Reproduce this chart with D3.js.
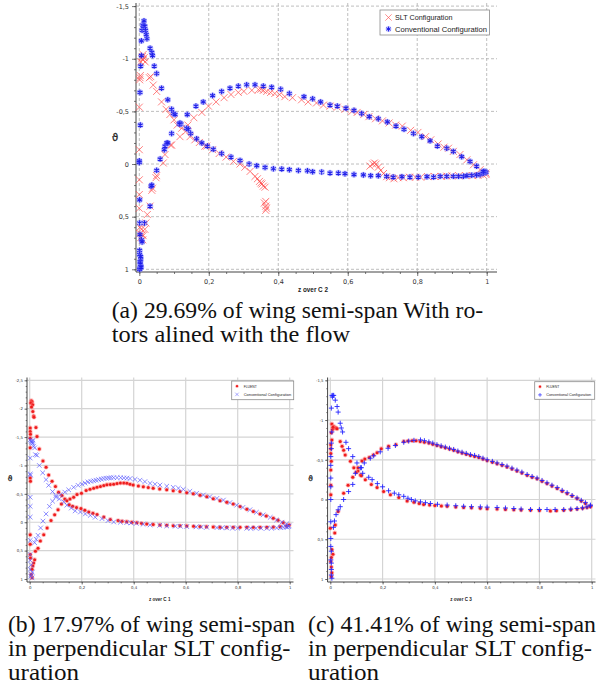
<!DOCTYPE html>
<html>
<head>
<meta charset="utf-8">
<script src="https://cdn.jsdelivr.net/npm/d3@7"></script>
<style>
html, body { margin: 0; padding: 0; background: #fff; }
svg { display: block; }
</style>
</head>
<body>
<div class="container"></div>
<script>
// tick values
const xTicks = [0, 0.2, 0.4, 0.6, 0.8, 1];
const yTicksA = [-1.5, -1, -0.5, 0, 0.5, 1];
const yTicksB = [-2.5, -2, -1.5, -1, -0.5, 0, 0.5, 1];
const yTicksC = [-1.5, -1, -0.5, 0, 0.5, 1];

const legendA = ["SLT Configuration", "Conventional Configuration"];
const legendBC = ["FLUENT", "Conventional Configuration"];
const xTitles = ["z over C 2", "z over C 1", "z over C 3"];
const yTitle = "\u03D1";

const captionA = ["(a) 29.69% of wing semi-span With ro-", "tors alined with the flow"];
const captionB = ["(b) 17.97% of wing semi-span", "in perpendicular SLT config-", "uration"];
const captionC = ["(c) 41.41% of wing semi-span", "in perpendicular SLT config-", "uration"];

// (a) SLT configuration, [z/c, value]
const sltA = [[0.000,-0.136],[0.000,-0.540],[0.003,-0.840],[0.002,-0.820],[0.001,-0.800],[0.004,-0.970],[0.007,-1.000],[0.009,-1.020],[0.011,-0.990],[0.014,-1.010],[0.017,-0.970],[0.011,-1.040],
[0.029,-0.820],[0.033,-0.830],[0.040,-0.750],[0.050,-0.690],[0.064,-0.590],[0.077,-0.520],[0.088,-0.470],[0.100,-0.420],[0.109,-0.370],[0.122,-0.340],[0.134,-0.310],[0.146,-0.260],[0.160,-0.230],[0.173,-0.205],[0.189,-0.170],[0.194,-0.170],[0.211,-0.136],[0.230,-0.100],[0.250,-0.066],[0.271,-0.025],[0.290,0.000],[0.304,0.030],[0.319,0.070],[0.333,0.118],[0.340,0.140],[0.346,0.165],[0.350,0.180],[0.353,0.190],[0.357,0.210],[0.362,0.220],[0.364,0.355],[0.360,0.370],[0.364,0.400],[0.366,0.420],[0.364,0.440],
[0.664,0.020],[0.672,0.000],[0.677,-0.010],[0.682,0.000],[0.688,0.030],[0.695,0.060],[0.703,0.090],[0.712,0.120],[0.720,0.130],[0.733,0.140],[0.745,0.130],[0.760,0.130],[0.778,0.125],[0.795,0.125],[0.810,0.125],[0.830,0.120],[0.850,0.118],[0.870,0.118],[0.885,0.115],[0.900,0.112],[0.920,0.112],[0.940,0.110],[0.960,0.110],[0.975,0.108],[0.990,0.105],[0.998,0.100],
[0.000,0.150],[0.000,0.290],[0.000,0.420],[0.002,0.600],[0.002,0.660],[0.004,0.700],[0.006,0.620],[0.008,0.670],[0.010,0.720],[0.011,0.680],[0.016,0.620],[0.019,0.560],[0.023,0.480],[0.031,0.400],[0.036,0.250],[0.038,0.230],[0.048,0.130],[0.050,0.110],[0.069,-0.010],[0.074,-0.090],[0.090,-0.180],[0.093,-0.180],[0.117,-0.260],[0.140,-0.370],[0.157,-0.440],[0.180,-0.490],[0.199,-0.550],[0.221,-0.590],[0.244,-0.630],[0.264,-0.660],[0.285,-0.680],[0.301,-0.690],[0.324,-0.700],[0.343,-0.706],[0.350,-0.710],[0.357,-0.700],[0.367,-0.690],[0.378,-0.680],[0.390,-0.670],[0.404,-0.660],[0.419,-0.640],[0.441,-0.630],[0.467,-0.610],[0.486,-0.590],[0.510,-0.580],[0.530,-0.560],[0.549,-0.550],[0.570,-0.540],[0.592,-0.520],[0.612,-0.500],[0.627,-0.490],[0.646,-0.470],[0.661,-0.450],[0.680,-0.430],[0.700,-0.410],[0.719,-0.390],[0.738,-0.370],[0.757,-0.360],[0.781,-0.320],[0.802,-0.300],[0.824,-0.260],[0.839,-0.230],[0.860,-0.190],[0.877,-0.160],[0.890,-0.150],[0.904,-0.120],[0.923,-0.090],[0.943,-0.040],[0.962,0.007],[0.981,0.054],[0.998,0.086]];

// (a) conventional configuration
const convA = [[0.000,-0.030],[0.000,-0.015],[0.001,0.340],[0.001,0.560],[0.002,0.670],[0.001,0.820],[0.004,0.910],[0.004,0.970],[0.002,0.990],[0.006,0.720],[0.008,0.740],[0.001,0.860],[0.002,0.930],[0.003,0.950],[0.001,1.000],[0.005,0.980],[0.004,0.880],
[0.003,-0.370],[0.002,-0.680],[0.004,-0.930],[0.006,-1.030],[0.006,-1.170],[0.008,-1.270],[0.010,-1.320],[0.0135,-1.360],[0.012,-1.310],[0.016,-1.310],[0.018,-1.270],[0.020,-1.230],[0.022,-1.190],
[0.031,-1.100],[0.036,-1.060],[0.038,-1.030],[0.043,-0.930],[0.050,-0.860],[0.064,-0.720],[0.082,-0.610],[0.093,-0.520],[0.098,-0.480],[0.103,-0.470],[0.117,-0.390],[0.120,-0.380],[0.136,-0.340],[0.141,-0.330],[0.148,-0.290],[0.165,-0.240],[0.180,-0.200],[0.196,-0.170],[0.213,-0.140],[0.237,-0.100],[0.264,-0.066],[0.290,-0.034],[0.316,0.000],[0.338,0.016],[0.362,0.032],[0.386,0.045],[0.410,0.048],[0.432,0.054],[0.458,0.061],[0.484,0.064],[0.499,0.073],[0.525,0.076],[0.549,0.086],[0.573,0.086],[0.592,0.092],[0.618,0.100],[0.645,0.104],[0.666,0.111],[0.688,0.111],[0.712,0.117],[0.731,0.124],[0.756,0.120],[0.779,0.124],[0.803,0.124],[0.828,0.120],[0.847,0.124],[0.866,0.117],[0.885,0.117],[0.904,0.117],[0.919,0.117],[0.933,0.117],[0.943,0.110],[0.957,0.107],[0.971,0.104],[0.981,0.099],[0.990,0.088],[0.998,0.080],[0.995,0.070],[0.992,0.076],
[0.015,0.560],[0.031,0.400],[0.034,0.210],[0.036,0.200],[0.050,0.060],[0.060,-0.047],[0.072,-0.136],[0.074,-0.170],[0.079,-0.200],[0.082,-0.200],[0.093,-0.290],[0.115,-0.380],[0.138,-0.470],[0.163,-0.550],[0.184,-0.590],[0.211,-0.650],[0.237,-0.690],[0.261,-0.720],[0.285,-0.740],[0.309,-0.753],[0.333,-0.753],[0.357,-0.740],[0.381,-0.730],[0.407,-0.710],[0.432,-0.670],[0.474,-0.640],[0.499,-0.620],[0.522,-0.590],[0.549,-0.560],[0.570,-0.550],[0.595,-0.530],[0.618,-0.510],[0.640,-0.480],[0.662,-0.450],[0.688,-0.430],[0.714,-0.400],[0.739,-0.360],[0.762,-0.330],[0.789,-0.290],[0.813,-0.260],[0.837,-0.220],[0.858,-0.170],[0.885,-0.150],[0.904,-0.120],[0.928,-0.070],[0.952,-0.025],[0.971,0.020],[0.990,0.070]];

// (b) FLUENT
const fluentB = [[0.006,-2.14],[0.009,-2.12],[0.004,-2.10],[0.0115,-2.07],[0.007,-2.03],[0.012,-1.95],[0.015,-1.87],[0.0165,-1.85],
[0.002,-1.66],[0.002,-1.60],[0.003,-1.55],[0.002,-1.48],[0.002,-1.31],[0.002,-0.78],[0.003,-0.72],[0.002,0.22],[0.002,0.39],[0.002,0.57],[0.003,0.63],[0.015,0.72],[0.012,0.77],[0.009,0.83],[0.006,0.92],[0.009,0.98],
[0.024,-1.67],[0.028,-1.51],[0.037,-1.29],[0.051,-1.08],[0.063,-0.97],[0.073,-0.83],[0.086,-0.72],[0.099,-0.63],[0.111,-0.53],[0.124,-0.47],[0.135,-0.41],[0.152,-0.31],[0.165,-0.28],[0.180,-0.26],[0.197,-0.24],[0.212,-0.21],[0.227,-0.18],[0.243,-0.16],[0.259,-0.134],[0.285,-0.09],[0.310,-0.05],[0.340,-0.03],[0.355,-0.017],[0.373,-0.01],[0.393,0.0],[0.412,0.007],[0.430,0.02],[0.450,0.03],[0.475,0.04],[0.501,0.047],[0.527,0.055],[0.552,0.06],[0.578,0.063],[0.604,0.065],[0.630,0.072],[0.655,0.077],[0.680,0.08],[0.706,0.083],[0.732,0.087],[0.758,0.089],[0.783,0.089],[0.809,0.089],[0.835,0.09],[0.86,0.089],[0.886,0.09],[0.912,0.089],[0.937,0.085],[0.963,0.08],[0.988,0.065],
[0.019,0.66],[0.022,0.51],[0.032,0.46],[0.041,0.33],[0.054,0.22],[0.067,0.10],[0.082,-0.03],[0.096,-0.13],[0.109,-0.22],[0.122,-0.32],[0.143,-0.38],[0.155,-0.41],[0.169,-0.44],[0.182,-0.49],[0.199,-0.51],[0.217,-0.56],[0.232,-0.58],[0.246,-0.60],[0.259,-0.615],[0.272,-0.63],[0.285,-0.645],[0.297,-0.66],[0.31,-0.665],[0.323,-0.67],[0.336,-0.68],[0.349,-0.69],[0.362,-0.69],[0.374,-0.685],[0.386,-0.67],[0.398,-0.655],[0.418,-0.64],[0.437,-0.625],[0.456,-0.61],[0.475,-0.60],[0.5,-0.585],[0.527,-0.57],[0.552,-0.555],[0.578,-0.54],[0.604,-0.52],[0.629,-0.50],[0.655,-0.475],[0.681,-0.45],[0.706,-0.415],[0.732,-0.38],[0.758,-0.35],[0.783,-0.32],[0.809,-0.275],[0.835,-0.23],[0.86,-0.19],[0.886,-0.146],[0.91,-0.11],[0.937,-0.07],[0.955,-0.035],[0.975,0.007],[0.998,0.047]];

// (b) conventional configuration
const convB = [[0.002,-1.45],[0.006,-1.43],[0.009,-1.42],[0.0115,-1.39],[0.015,-1.34],[0.019,-1.31],[0.022,-1.19],[0.008,-1.40],[0.012,-1.44],
[0.002,-1.13],[0.002,-0.85],[0.003,-0.83],[0.002,-0.44],[0.002,-0.28],[0.002,-0.09],[0.002,0.32],[0.002,0.57],[0.002,0.67],[0.006,0.75],[0.002,0.83],[0.006,0.92],[0.009,0.98],[0.004,0.95],[0.010,0.88],
[0.028,-1.18],[0.037,-1.0],[0.05,-0.87],[0.063,-0.75],[0.073,-0.65],[0.088,-0.54],[0.101,-0.47],[0.114,-0.41],[0.131,-0.36],[0.143,-0.30],[0.16,-0.25],[0.175,-0.20],[0.195,-0.18],[0.214,-0.146],[0.233,-0.12],[0.252,-0.088],[0.278,-0.063],[0.301,-0.028],[0.323,-0.005],[0.349,0.0],[0.373,0.007],[0.39,0.012],[0.41,0.02],[0.436,0.035],[0.463,0.047],[0.5,0.055],[0.527,0.065],[0.56,0.07],[0.58,0.073],[0.604,0.077],[0.64,0.082],[0.66,0.085],[0.681,0.089],[0.72,0.095],[0.74,0.097],[0.758,0.1],[0.78,0.102],[0.8,0.104],[0.835,0.106],[0.85,0.106],[0.87,0.106],[0.89,0.106],[0.912,0.106],[0.93,0.104],[0.95,0.1],[0.965,0.095],[0.975,0.089],[0.985,0.08],[0.998,0.065],[0.995,0.075],[0.99,0.085],
[0.019,0.36],[0.025,0.3],[0.032,0.23],[0.042,0.1],[0.051,-0.02],[0.063,-0.146],[0.076,-0.28],[0.088,-0.37],[0.101,-0.44],[0.118,-0.49],[0.135,-0.53],[0.15,-0.57],[0.169,-0.615],[0.186,-0.65],[0.201,-0.67],[0.213,-0.69],[0.224,-0.71],[0.235,-0.72],[0.246,-0.73],[0.255,-0.74],[0.265,-0.75],[0.275,-0.76],[0.285,-0.77],[0.295,-0.775],[0.304,-0.78],[0.313,-0.785],[0.323,-0.785],[0.336,-0.785],[0.35,-0.785],[0.362,-0.78],[0.374,-0.775],[0.386,-0.77],[0.405,-0.755],[0.424,-0.74],[0.443,-0.715],[0.463,-0.685],[0.482,-0.67],[0.501,-0.655],[0.527,-0.635],[0.552,-0.615],[0.572,-0.6],[0.591,-0.58],[0.616,-0.545],[0.642,-0.51],[0.668,-0.48],[0.693,-0.45],[0.72,-0.42],[0.745,-0.39],[0.77,-0.345],[0.796,-0.30],[0.82,-0.26],[0.847,-0.22],[0.872,-0.175],[0.898,-0.13],[0.925,-0.085],[0.95,-0.04],[0.97,0.0],[0.988,0.03]];

// (c) FLUENT
const fluentC = [[0.006,-0.95],[0.013,-0.92],[0.017,-0.90],[0.022,-0.90],[0.026,-0.89],[0.008,-0.88],[0.004,-0.84],[0.010,-0.91],
[0.006,-0.75],[0.002,-0.69],[0.002,-0.64],[0.002,-0.58],[0.004,-0.48],[0.002,-0.37],[0.002,-0.18],[0.002,-0.06],[0.000,0.36],[0.006,0.63],[0.010,0.69],[0.004,0.73],[0.002,0.78],[0.004,0.85],[0.006,0.92],[0.004,0.97],
[0.038,-0.73],[0.045,-0.67],[0.051,-0.62],[0.057,-0.56],[0.077,-0.48],[0.090,-0.40],[0.106,-0.36],[0.115,-0.31],[0.119,-0.30],[0.134,-0.25],[0.157,-0.19],[0.179,-0.15],[0.204,-0.10],[0.23,-0.06],[0.262,-0.025],[0.294,0.02],[0.32,0.035],[0.34,0.05],[0.357,0.063],[0.38,0.07],[0.40,0.075],[0.425,0.08],[0.447,0.085],[0.48,0.093],[0.51,0.10],[0.54,0.105],[0.574,0.11],[0.6,0.115],[0.638,0.12],[0.67,0.125],[0.702,0.13],[0.73,0.132],[0.766,0.134],[0.8,0.138],[0.842,0.143],[0.865,0.14],[0.893,0.134],[0.92,0.128],[0.944,0.12],[0.965,0.11],[0.982,0.10],[0.995,0.09],
[0.017,0.42],[0.019,0.32],[0.030,0.15],[0.051,-0.08],[0.068,-0.18],[0.086,-0.28],[0.098,-0.34],[0.106,-0.40],[0.121,-0.485],[0.132,-0.51],[0.149,-0.53],[0.165,-0.56],[0.179,-0.59],[0.195,-0.64],[0.223,-0.67],[0.251,-0.69],[0.281,-0.73],[0.297,-0.735],[0.313,-0.74],[0.328,-0.74],[0.344,-0.73],[0.36,-0.72],[0.377,-0.71],[0.392,-0.695],[0.408,-0.68],[0.424,-0.665],[0.44,-0.65],[0.456,-0.635],[0.472,-0.62],[0.488,-0.60],[0.504,-0.585],[0.52,-0.57],[0.536,-0.555],[0.552,-0.54],[0.568,-0.53],[0.584,-0.51],[0.60,-0.49],[0.62,-0.47],[0.638,-0.45],[0.657,-0.43],[0.676,-0.41],[0.695,-0.385],[0.714,-0.36],[0.733,-0.335],[0.753,-0.305],[0.772,-0.28],[0.791,-0.26],[0.81,-0.23],[0.829,-0.20],[0.848,-0.17],[0.868,-0.14],[0.887,-0.105],[0.906,-0.075],[0.925,-0.045],[0.944,-0.013],[0.96,0.02],[0.976,0.05],[0.995,0.084]];

// (c) conventional configuration
const convC = [[0.0065,-1.31],[0.010,-1.31],[0.013,-1.31],[0.008,-1.29],[0.019,-1.25],[0.004,-1.15],[0.026,-1.17],[0.030,-1.10],
[0.006,-0.85],[0.004,-0.71],[0.004,-0.64],[0.002,-0.54],[0.002,-0.43],[0.002,-0.27],[0.002,-0.16],[0.002,0.00],[0.002,0.28],[0.002,0.49],[0.002,0.59],[0.004,0.65],[0.002,0.76],[0.004,0.80],[0.004,0.88],[0.004,0.95],[0.006,0.99],
[0.038,-0.96],[0.042,-0.90],[0.047,-0.85],[0.060,-0.72],[0.070,-0.64],[0.086,-0.54],[0.102,-0.46],[0.115,-0.40],[0.124,-0.33],[0.147,-0.28],[0.160,-0.25],[0.180,-0.20],[0.200,-0.16],[0.223,-0.11],[0.245,-0.08],[0.262,-0.06],[0.281,-0.04],[0.297,-0.016],[0.310,0.0],[0.325,0.017],[0.345,0.03],[0.364,0.04],[0.383,0.05],[0.41,0.06],[0.447,0.07],[0.48,0.078],[0.51,0.085],[0.54,0.09],[0.574,0.093],[0.6,0.096],[0.638,0.10],[0.67,0.107],[0.702,0.113],[0.73,0.12],[0.766,0.126],[0.8,0.126],[0.829,0.126],[0.86,0.126],[0.893,0.126],[0.92,0.12],[0.944,0.113],[0.965,0.105],[0.982,0.093],[0.995,0.07],
[0.012,0.35],[0.016,0.27],[0.022,0.19],[0.030,0.13],[0.038,0.09],[0.051,0.00],[0.07,-0.1],[0.086,-0.19],[0.096,-0.33],[0.119,-0.40],[0.13,-0.46],[0.153,-0.52],[0.166,-0.55],[0.191,-0.60],[0.221,-0.645],[0.249,-0.68],[0.281,-0.72],[0.300,-0.735],[0.320,-0.745],[0.345,-0.75],[0.36,-0.74],[0.377,-0.725],[0.392,-0.71],[0.408,-0.69],[0.424,-0.675],[0.44,-0.66],[0.456,-0.645],[0.472,-0.63],[0.488,-0.61],[0.504,-0.595],[0.52,-0.58],[0.536,-0.565],[0.552,-0.555],[0.568,-0.54],[0.584,-0.52],[0.60,-0.50],[0.62,-0.48],[0.638,-0.46],[0.657,-0.44],[0.676,-0.42],[0.695,-0.395],[0.714,-0.37],[0.733,-0.345],[0.753,-0.315],[0.772,-0.29],[0.791,-0.27],[0.81,-0.24],[0.829,-0.21],[0.848,-0.18],[0.868,-0.15],[0.887,-0.115],[0.906,-0.085],[0.925,-0.05],[0.944,-0.02],[0.96,0.01],[0.976,0.04],[0.995,0.08]];

const svg = d3.select("div.container").append("svg")
    .attr("width", 597)
    .attr("height", 689);

const fmt = d => String(d).replace(".", ",");

//marker shapes
function markerPath(type, s) {
    const h = s / 2;
    if (type === "x") return `M${-h},${-h}L${h},${h}M${-h},${h}L${h},${-h}`;
    if (type === "plus") return `M${-h},0L${h},0M0,${-h}L0,${h}`;
    const k = h * 0.866;
    return `M0,${-h}L0,${h}M${-k},${-h/2}L${k},${h/2}M${-k},${h/2}L${k},${-h/2}`;
}

const styles = {
    sltA: {shape: "x", size: 7, stroke: "#ff4a4a", width: 1, opacity: 0.7},
    convA: {shape: "star", size: 5.5, stroke: "#1a1ae8", width: 1.1, opacity: 0.95, halo: 3.2, haloFill: "#7d7dff", haloOp: 0.45},
    fluent: {dot: 1.5, fill: "#ee1c1c", halo: 2.4, haloFill: "#ff7b7b", haloOp: 0.5},
    convB: {shape: "x", size: 4.6, stroke: "#5656ff", width: 0.8, opacity: 0.85},
    convC: {shape: "plus", size: 5, stroke: "#2424ff", width: 1, opacity: 0.9}
};

function drawMarks(g, data, st, x, y) {
    const m = g.append("g");
    const sel = m.selectAll("g").data(data).join("g")
        .attr("transform", d => `translate(${x(d[0])},${y(d[1])})`);
    if (st.halo) sel.append("circle").attr("r", st.halo).attr("fill", st.haloFill).attr("opacity", st.haloOp);
    if (st.dot) sel.append("circle").attr("r", st.dot).attr("fill", st.fill);
    if (st.shape) sel.append("path").attr("d", markerPath(st.shape, st.size))
        .attr("fill", "none").attr("stroke", st.stroke)
        .attr("stroke-width", st.width).attr("opacity", st.opacity);
}

function legendMark(g, st, cx, cy, scale) {
    const m = g.append("g").attr("transform", `translate(${cx},${cy}) scale(${scale})`);
    if (st.halo) m.append("circle").attr("r", st.halo).attr("fill", st.haloFill).attr("opacity", st.haloOp);
    if (st.dot) m.append("circle").attr("r", st.dot).attr("fill", st.fill);
    if (st.shape) m.append("path").attr("d", markerPath(st.shape, st.size))
        .attr("fill", "none").attr("stroke", st.stroke)
        .attr("stroke-width", st.width).attr("opacity", st.opacity);
}

function panel(p) {
    const yMin = p.yTicks[0], yMax = p.yTicks[p.yTicks.length - 1];
    const x = d3.scaleLinear().domain([0, 1]).range([p.x0, p.x1]);
    const y = d3.scaleLinear().domain([yMin, yMax]).range([p.y0, p.y1]);
    const g = svg.append("g");

    //grid lines
    const grid = g.append("g")
        .attr("stroke", p.gridColor)
        .attr("stroke-width", p.gridWidth)
        .attr("stroke-dasharray", p.gridDash);
    grid.selectAll(".gx").data(xTicks).join("line")
        .attr("x1", d => x(d)).attr("x2", d => x(d))
        .attr("y1", p.top).attr("y2", p.bottom);
    grid.selectAll(".gy").data(p.yTicks).join("line")
        .attr("x1", p.left).attr("x2", p.right)
        .attr("y1", d => y(d)).attr("y2", d => y(d));

    //axes
    const yAxis = g.append("g").attr("transform", `translate(${p.left},0)`)
        .call(d3.axisLeft(y).tickValues(p.yTicks).tickFormat(fmt)
            .tickSize(p.tick).tickPadding(p.pad).tickSizeOuter(0));
    const yMinor = g.append("g").attr("transform", `translate(${p.left},0)`)
        .call(d3.axisLeft(y).tickValues(d3.range(yMin, yMax + 1e-9, 0.1)).tickFormat("")
            .tickSize(p.minor).tickSizeOuter(0));
    const xAxis = g.append("g").attr("transform", `translate(0,${p.bottom})`)
        .call(d3.axisBottom(x).tickValues(xTicks).tickFormat(fmt)
            .tickSize(p.tick).tickPadding(p.pad).tickSizeOuter(0));
    const xMinor = g.append("g").attr("transform", `translate(0,${p.bottom})`)
        .call(d3.axisBottom(x).tickValues(d3.range(0, 1 + 1e-9, 0.05)).tickFormat("")
            .tickSize(p.minor).tickSizeOuter(0));
    [yAxis, yMinor, xAxis, xMinor].forEach(a => {
        a.select(".domain").remove();
        a.selectAll("line").attr("stroke", "#555").attr("stroke-width", 0.8);
        a.selectAll("text").attr("fill", "#333")
            .style("font-family", "DejaVu Sans").style("font-size", p.font + "px");
    });
    g.append("line").attr("x1", p.left).attr("x2", p.left)
        .attr("y1", p.top).attr("y2", p.bottom).attr("stroke", "#444");
    g.append("line").attr("x1", p.left).attr("x2", p.right)
        .attr("y1", p.bottom).attr("y2", p.bottom).attr("stroke", "#444");

    //axis titles
    g.append("text").attr("x", p.yTitleX).attr("y", p.yTitleY)
        .attr("text-anchor", "middle").attr("fill", "#222")
        .attr("stroke", "#222").attr("stroke-width", 0.3)
        .style("font-family", "DejaVu Sans")
        .style("font-size", p.yTitleSize + "px").text(yTitle);
    g.append("text").attr("x", (p.x0 + p.x1) / 2 - p.xTitleW / 2).attr("y", p.xTitleY)
        .attr("textLength", p.xTitleW).attr("lengthAdjust", "spacingAndGlyphs")
        .attr("fill", "#222")
        .style("font-family", "Liberation Sans").style("font-weight", "bold")
        .style("font-size", p.xTitleSize + "px").text(p.xTitle);

    //points
    p.series.forEach(s => drawMarks(g, s.data, s.style, x, y));

    //legend
    const L = p.legend;
    const lg = g.append("g");
    lg.append("rect").attr("x", L.x).attr("y", L.y).attr("width", L.w).attr("height", L.h)
        .attr("fill", "#fff").attr("stroke", "#8a8a8a").attr("stroke-width", 0.8);
    p.series.forEach((s, i) => {
        const cy = L.y + L.first + i * L.step;
        legendMark(lg, s.style, L.x + L.mark, cy, L.markScale);
        lg.append("text").attr("x", L.x + L.text).attr("y", cy + L.font * 0.36)
            .attr("textLength", L.widths[i]).attr("lengthAdjust", "spacingAndGlyphs")
            .attr("fill", "#222")
            .style("font-family", "Liberation Sans").style("font-size", L.font + "px")
            .text(L.labels[i]);
    });
}

panel({
    x0: 139.3, x1: 486.7, y0: 6.1, y1: 269.3,
    left: 136, right: 497, top: 3, bottom: 272,
    yTicks: yTicksA, tick: 4, minor: 2, pad: 3, font: 6.5,
    gridColor: "#adadad", gridWidth: 0.8, gridDash: "3,2",
    yTitleX: 115, yTitleY: 141, yTitleSize: 10,
    xTitle: xTitles[0], xTitleY: 291.5, xTitleSize: 7, xTitleW: 30,
    series: [{data: sltA, style: styles.sltA}, {data: convA, style: styles.convA}],
    legend: {x: 380, y: 10, w: 109.5, h: 25, first: 7.5, step: 11.5, mark: 8.5, text: 15,
        markScale: 0.9, font: 7.5, labels: legendA, widths: [57.5, 92]}
});

panel({
    x0: 29.7, x1: 289.7, y0: 380.3, y1: 579,
    left: 27, right: 293.5, top: 377.5, bottom: 582,
    yTicks: yTicksB, tick: 2.5, minor: 1.3, pad: 1.5, font: 3.9,
    gridColor: "#d4d4d4", gridWidth: 1.2, gridDash: null,
    yTitleX: 10, yTitleY: 481, yTitleSize: 7.5,
    xTitle: xTitles[1], xTitleY: 601, xTitleSize: 4.6, xTitleW: 21.5,
    series: [{data: fluentB, style: styles.fluent}, {data: convB, style: styles.convB}],
    legend: {x: 231.7, y: 381, w: 62, h: 18.7, first: 5.2, step: 8.2, mark: 5.3, text: 12,
        markScale: 0.75, font: 3.7, labels: legendBC, widths: [13, 47.5]}
});

panel({
    x0: 330.3, x1: 591.7, y0: 380.3, y1: 579,
    left: 327.6, right: 595.5, top: 377.5, bottom: 582,
    yTicks: yTicksC, tick: 2.5, minor: 1.3, pad: 1.5, font: 3.9,
    gridColor: "#d4d4d4", gridWidth: 1.2, gridDash: null,
    yTitleX: 310.5, yTitleY: 481, yTitleSize: 7.5,
    xTitle: xTitles[2], xTitleY: 601, xTitleSize: 4.6, xTitleW: 21.5,
    series: [{data: fluentC, style: styles.fluent}, {data: convC, style: styles.convC}],
    legend: {x: 534.7, y: 381.7, w: 60, h: 17.6, first: 5, step: 8.2, mark: 5.3, text: 11.5,
        markScale: 0.75, font: 3.6, labels: legendBC, widths: [13, 45]}
});

//captions
function caption(lines, x0, y0, widths) {
    svg.append("g").selectAll("text").data(lines).join("text")
        .attr("x", x0)
        .attr("y", (d, i) => y0 + i * 24.2)
        .attr("textLength", (d, i) => widths[i])
        .attr("lengthAdjust", "spacingAndGlyphs")
        .attr("fill", "#111")
        .style("font-family", "Liberation Serif")
        .style("font-size", "22.5px")
        .text(d => d);
}
caption(captionA, 111.7, 317.5, [371.5, 238.5]);
caption(captionB, 8, 632, [287, 282.5, 71]);
caption(captionC, 308, 632, [288, 284, 71]);
</script>
</body>
</html>
